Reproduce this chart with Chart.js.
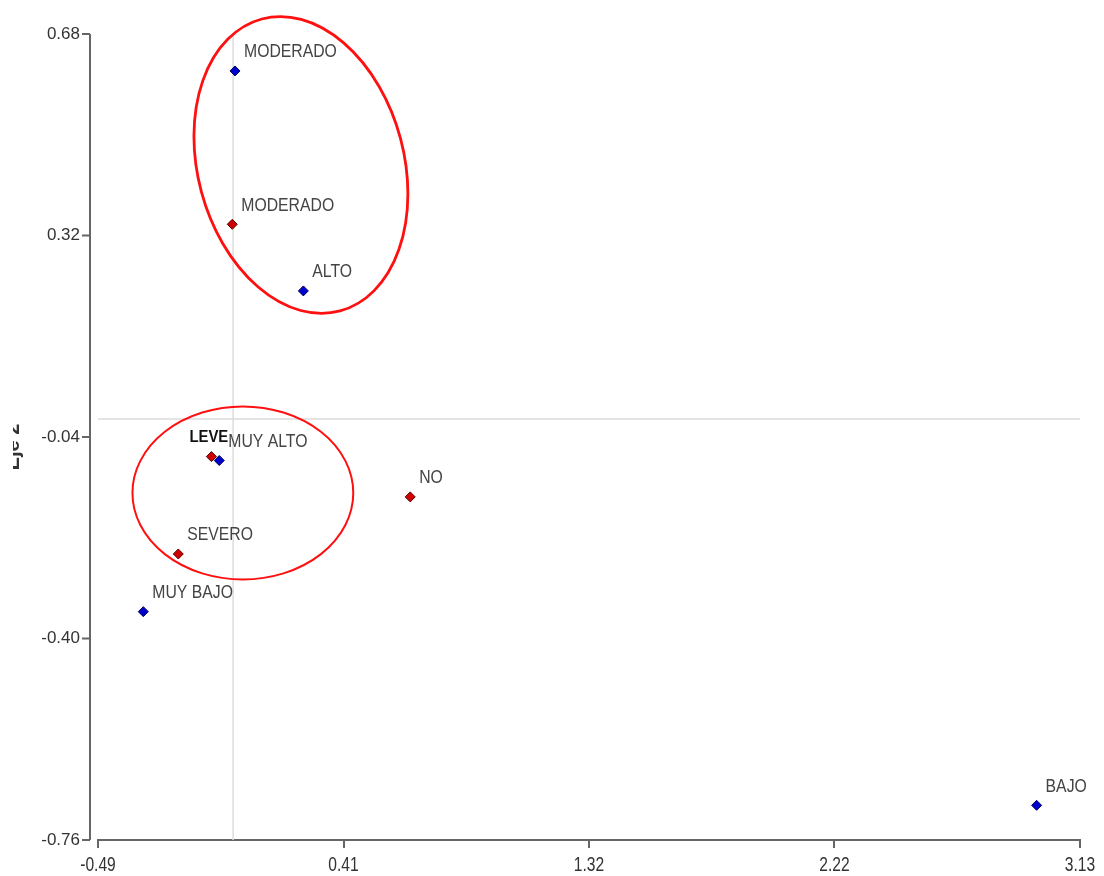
<!DOCTYPE html>
<html>
<head>
<meta charset="utf-8">
<script src="https://cdn.jsdelivr.net/npm/chart.js@4/dist/chart.umd.min.js"></script>
<style>
  html, body { margin: 0; padding: 0; background: #fff; }
  #wrap { width: 1104px; height: 876px; position: relative; }
</style>
</head>
<body>
<div id="wrap"><canvas id="myChart"></canvas></div>
<script>
// categories of each group
var nivelLabels = ["MUY BAJO", "BAJO", "MODERADO", "ALTO", "MUY ALTO"];
var nivelX = [-0.323, 2.970, 0.015, 0.267, -0.043];
var nivelY = [-0.352, -0.698, 0.614, 0.221, -0.082];

var severidadLabels = ["NO", "LEVE", "MODERADO", "SEVERO"];
var severidadX = [0.661, -0.072, 0.005, -0.194];
var severidadY = [-0.147, -0.075, 0.340, -0.249];

// axis ticks
var xTickValues = [-0.49, 0.415, 1.32, 2.225, 3.13];
var xTickLabels = ["-0.49", "0.41", "1.32", "2.22", "3.13"];
var yTickValues = [-0.76, -0.40, -0.04, 0.32, 0.68];
var yTickLabels = ["-0.76", "-0.40", "-0.04", "0.32", "0.68"];

// origin reference lines
var refX = 0.008;
var refY = -0.008;

// red rings drawn round the groups (centre in data units, radii in data units)
var rings = [
  { cx: 0.258, cy: 0.446, rx: 0.380, ry: 0.270, rot: -15, width: 2.8 },
  { cx: 0.044, cy: -0.140, rx: 0.407, ry: 0.1545, rot: 0, width: 2 }
];

function toPoints(xs, ys) { // build {x,y} list for chart.js
  var out = [];
  for (var i = 0; i < xs.length; i++) out.push({ x: xs[i], y: ys[i] });
  return out;
}

// the original uses a narrow font, no narrow face here so squeeze the text
function narrowText(c, txt, x, y, sx) {
  c.save();
  c.translate(x, y);
  c.scale(sx, 1);
  c.fillText(txt, 0, 0);
  c.restore();
}

// reference lines under the points
var refLines = {
  id: 'refLines',
  beforeDatasetsDraw: function (chart) {
    var c = chart.ctx, xs = chart.scales.x, ys = chart.scales.y, a = chart.chartArea;
    c.save();
    c.strokeStyle = '#dcdcdc';
    c.lineWidth = 1.5;
    var px = xs.getPixelForValue(refX), py = ys.getPixelForValue(refY);
    c.beginPath();
    c.moveTo(px, a.top); c.lineTo(px, a.bottom);
    c.moveTo(a.left, py); c.lineTo(a.right, py);
    c.stroke();
    c.restore();
  }
};

// y axis drawn a little apart from the plot (like the original) + x tick texts
var axisExtras = {
  id: 'axisExtras',
  afterDraw: function (chart) {
    var c = chart.ctx, xs = chart.scales.x, ys = chart.scales.y, a = chart.chartArea;
    var ax = a.left - 8;
    c.save();
    c.strokeStyle = '#666';
    c.lineWidth = 2;
    c.beginPath();
    c.moveTo(ax, ys.getPixelForValue(yTickValues[yTickValues.length - 1]));
    c.lineTo(ax, ys.getPixelForValue(yTickValues[0]));
    for (var i = 0; i < yTickValues.length; i++) {
      var py = ys.getPixelForValue(yTickValues[i]);
      c.moveTo(ax, py); c.lineTo(ax - 8, py);
    }
    c.stroke();

    c.fillStyle = '#333';
    c.font = "20px 'Liberation Sans', Arial, sans-serif";
    c.textAlign = 'center';
    c.textBaseline = 'middle';
    for (var j = 0; j < xTickValues.length; j++) {
      narrowText(c, xTickLabels[j], xs.getPixelForValue(xTickValues[j]), a.bottom + 25, 0.78);
    }

    // axis title, mostly cut by the left edge in the original
    c.beginPath();
    c.rect(13, 0, 30, chart.height);
    c.clip();
    c.translate(19, (a.top + a.bottom) / 2 + 10);
    c.rotate(-Math.PI / 2);
    c.font = "bold 20px 'Liberation Sans', Arial, sans-serif";
    c.textBaseline = 'alphabetic';
    c.fillText('Eje 2', 0, 0);
    c.restore();
  }
};

// rings and point names
var notes = {
  id: 'notes',
  afterDatasetsDraw: function (chart) {
    var c = chart.ctx, xs = chart.scales.x, ys = chart.scales.y;
    c.save();
    c.strokeStyle = '#ff1010';
    rings.forEach(function (r) {
      var cx = xs.getPixelForValue(r.cx), cy = ys.getPixelForValue(r.cy);
      var rx = Math.abs(xs.getPixelForValue(r.cx + r.rx) - cx);
      var ry = Math.abs(ys.getPixelForValue(r.cy + r.ry) - cy);
      c.lineWidth = r.width;
      c.beginPath();
      c.ellipse(cx, cy, rx, ry, r.rot * Math.PI / 180, 0, Math.PI * 2);
      c.stroke();
    });
    c.textBaseline = 'middle';
    c.textAlign = 'left';
    chart.data.datasets.forEach(function (ds, di) {
      var meta = chart.getDatasetMeta(di);
      meta.data.forEach(function (pt, i) {
        var txt = ds.names[i];
        if (txt === 'LEVE') { // this one is bold and sits left of its point
          c.font = "bold 16px 'Liberation Sans', Arial, sans-serif";
          c.fillStyle = '#111';
          narrowText(c, txt, pt.x - 22, pt.y - 19, 0.93);
        } else {
          c.font = "19px 'Liberation Sans', Arial, sans-serif";
          c.fillStyle = '#444';
          narrowText(c, txt, pt.x + 9, pt.y - 19, 0.83);
        }
      });
    });
    c.restore();
  }
};

var ctx = document.getElementById('myChart').getContext('2d');
var chart = new Chart(ctx, {
  type: 'scatter',
  data: {
    datasets: [{
      label: 'Nivel',
      names: nivelLabels,
      data: toPoints(nivelX, nivelY),
      pointStyle: 'rectRot',
      pointRadius: 5,
      backgroundColor: '#0000cc',
      borderColor: '#000055',
      borderWidth: 1
    }, {
      label: 'Severidad',
      names: severidadLabels,
      data: toPoints(severidadX, severidadY),
      pointStyle: 'rectRot',
      pointRadius: 5,
      backgroundColor: '#d00000',
      borderColor: '#550000',
      borderWidth: 1
    }]
  },
  options: {
    responsive: true,
    maintainAspectRatio: false,
    animation: false,
    layout: { padding: { left: 0, top: 34, right: 24, bottom: 0 } },
    plugins: { legend: { display: false }, tooltip: { enabled: false } },
    scales: {
      x: {
        type: 'linear',
        min: xTickValues[0],
        max: xTickValues[xTickValues.length - 1],
        afterBuildTicks: function (s) { s.ticks = xTickValues.map(function (v) { return { value: v }; }); },
        afterFit: function (s) { s.height = 36; },
        ticks: { display: false },
        grid: { drawOnChartArea: false, drawTicks: true, tickLength: 8, color: '#666', lineWidth: 2 },
        border: { display: true, color: '#666', width: 2 }
      },
      y: {
        type: 'linear',
        min: yTickValues[0],
        max: yTickValues[yTickValues.length - 1],
        afterBuildTicks: function (s) { s.ticks = yTickValues.map(function (v) { return { value: v }; }); },
        afterFit: function (s) { s.width = 98; },
        ticks: {
          autoSkip: false,
          padding: 18,
          color: '#333',
          font: { family: "'Liberation Sans', Arial", size: 17 },
          callback: function (v, i) { return yTickLabels[i]; }
        },
        grid: { display: false, drawTicks: false },
        border: { display: false }
      }
    }
  },
  plugins: [refLines, notes, axisExtras]
});
</script>
</body>
</html>
